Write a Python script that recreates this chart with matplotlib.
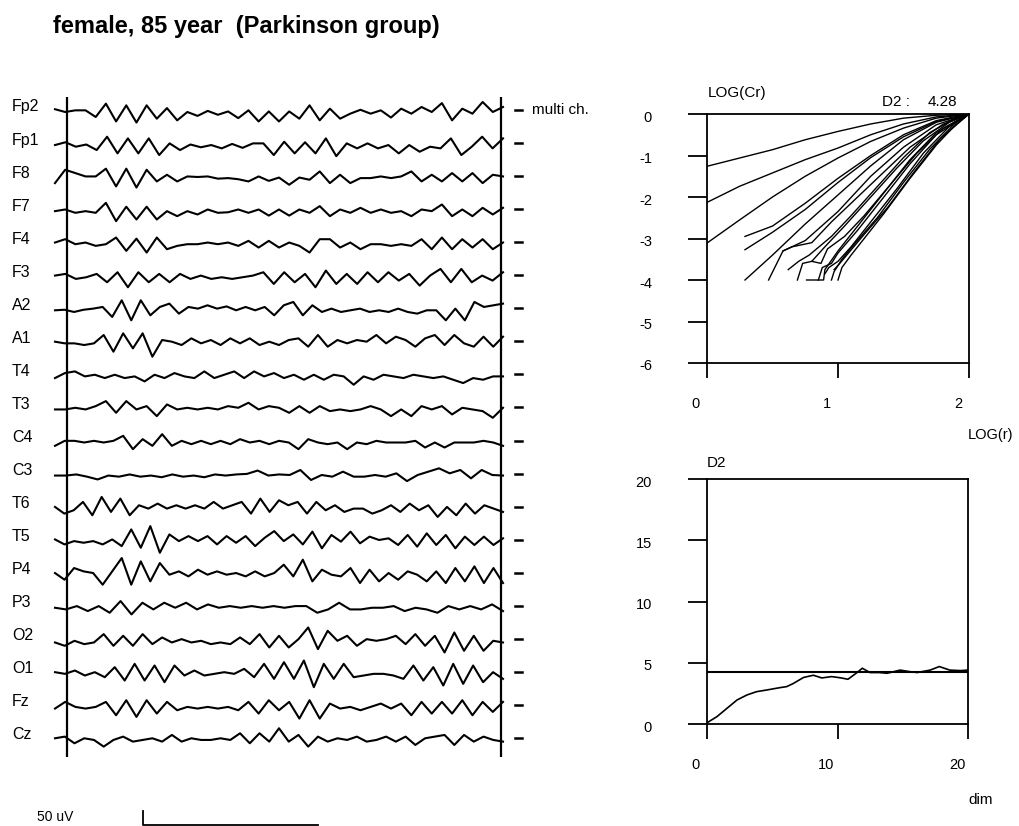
import numpy as np
import matplotlib
matplotlib.use("Agg")
import matplotlib.pyplot as plt
from matplotlib.transforms import ScaledTranslation

plt.rcParams['font.family'] = ['Liberation Sans', 'DejaVu Sans']

# ---------------- data ----------------
title = "female, 85 year  (Parkinson group)"
channel_names = ["Fp2", "Fp1", "F8", "F7", "F4", "F3", "A2", "A1", "T4", "T3",
                 "C4", "C3", "T6", "T5", "P4", "P3", "O2", "O1", "Fz", "Cz"]

# EEG amplitudes (uV), evenly spaced in time over the epoch
fp2 = [10, 0, 6, 6, -18, 30, -34, 24, -38, 24, -24, 14, -30, 0, -14, 4, -10, 2, -22, 6, -34, 2, -34, 2,
       -24, 24, -30, 12, -24, -6, 8, -6, 6, -20, 12, -6, 18, 0, 32, -30, 12, -6, 36, 0, 18]
fp1 = [0, 10, -6, 2, -18, 30, -30, 24, -30, 24, -36, 6, -18, 2, -8, 0, -12, 4, -10, 6, 6, -36, 12, -30, 10,
       -30, 24, -40, 6, -12, 6, -12, 0, -30, 0, -24, -6, -12, 24, -36, -6, 30, -12, 24]
f8 = [-18, 30, 18, 6, 6, 34, -30, 34, -34, 30, -12, 12, -12, 6, 4, 6, -2, 0, -4, -12, 6, -10, 2, -24, 2,
      -6, 24, -18, 12, -18, 0, 0, 6, 0, 6, 24, -12, 12, -12, 18, -12, 18, -18, 12, 6]
f7 = [0, 6, -6, 0, -6, 30, -36, 16, -30, 16, -30, 0, -18, 0, -12, 6, -6, -4, 6, -6, 6, -16, 6, -16, 6,
      -6, 18, -18, 6, -6, 12, -6, 6, -6, 0, -18, 6, 0, 24, -18, 6, -18, 12, -12, 12]
f4 = [6, 18, 0, 6, -6, 0, 24, -24, 20, -30, 24, -18, -6, 0, 0, 6, 0, 6, -6, 12, -12, 12, -12, 6,
      -6, -30, 18, 18, -12, 6, -18, 0, 0, -6, 0, -6, 18, -18, 24, -18, 18, -12, 18, -18, 6]
f3 = [6, 12, -6, 0, 12, -18, 18, -36, 18, -18, 12, -18, 12, -6, 6, -6, 0, -6, 0, 6, 18, -24, 18, -18, 12,
      -36, 24, -24, 12, -24, 18, -18, 18, -12, 12, -30, 6, 30, -18, 30, -18, 6, -12, 18]
a2 = [0, 2, -6, 2, 6, 12, -24, 36, -36, 36, -18, 12, 24, -12, 12, 6, 18, 6, 14, 0, 12, 0, 12, -18, 18, 30,
      -18, 18, -6, 6, -6, 0, 6, -6, 0, -6, 6, -6, -12, 0, 0, -36, 6, -36, 30, 12, 18, 24]
a1 = [6, 0, 0, -6, 0, 30, -30, 36, -18, 36, -48, 12, 6, -6, 18, 0, 12, -6, 18, 0, 18, -6, 6, -6, 12, 18,
      -12, 30, -12, 12, 0, 12, 6, 30, 0, 24, 12, -12, 18, 30, -6, 30, 0, -12, 24, -12, 24]
t4 = [-6, 12, 18, 0, 6, -6, 6, -6, 0, -18, 6, -6, 12, 0, -6, 18, -6, 6, 18, -6, 18, 0, 12, -6, 6, -12, 6,
      -12, 6, 0, -30, 0, -12, 6, 0, -6, 6, 0, -6, 0, -12, -24, -6, -12, 0, 0]
t3 = [0, 0, 6, 0, 12, 30, -12, 30, 0, 12, -24, 18, 0, 6, 0, 6, 0, 12, 6, 24, 0, 12, 6, -12, 12,
      -12, 12, -6, 0, -6, 0, 12, 0, -24, 0, -24, 12, 0, 12, -18, 6, 0, -6, -30, 6]
c4 = [-12, 6, 6, 0, 6, 0, 6, 24, -24, 12, -12, 30, -12, 6, -6, 6, -6, 6, -6, 12, 0, 6, -6, 6, 0,
      -24, 12, 0, -6, 0, -24, 0, -6, 6, 0, 0, 0, 6, -18, 0, -18, 0, 0, 0, 6, 0, -12]
c3 = [0, 0, 4, -4, -14, 0, -4, 4, -4, 0, -6, 4, -4, 0, -6, 4, 0, 4, 6, 18, 0, 4,
      2, 20, -16, 2, -4, 14, -4, -4, 2, -4, 8, -20, 2, 14, 26, 8, 20, -10, 20, 2, 0]
t6 = [6, -18, -6, 24, -24, 42, -12, 36, -24, 12, 0, 18, 0, 12, 0, 12, 0, 24, 0, 12, 24, -18, 36, -12, 30, 12,
      24, -18, 24, -6, 12, -12, 0, 0, -18, -6, 12, -12, 18, -6, 12, -30, 6, -24, 18, -18, 12, 0, -12]
t5 = [8, -10, 2, -4, 2, -10, 8, -16, 44, -22, 56, -40, 26, 2, 20, 2, 20, -10, 20, -4, 20, -16, 14, 38, 2, 26, -10,
      36, -24, 24, 0, 36, -6, 18, 6, 12, -12, 24, -18, 30, -12, 24, -24, 18, -12, 18, -12, 12]
p4 = [6, -18, 24, 12, 6, -36, 12, 60, -36, 48, -24, 42, 0, 12, -6, 18, 0, 12, 0, 6, -6, 12, -6, 6, 36, -6,
      54, -24, 18, 0, -6, 24, -30, 18, -24, 6, -18, 12, 0, -24, 12, -30, 24, -24, 30, -30, 24, -30]
p3 = [0, -6, 6, -12, 6, -18, 24, -24, 18, -6, 18, 0, 18, -6, 12, 0, 6, 0, 6, 0, 6, 0, 6,
      6, -18, -6, 18, -6, -6, 0, 0, 6, -12, 0, -6, -18, 6, -6, 6, -6, 12, -12]
o2 = [-6, -18, 0, -12, -6, 24, -18, 18, -18, 24, -12, 12, -6, 6, -6, 0, -12, -6, -12, 12, -12, 24, -24, 18, -24, 6,
      48, -30, 36, 0, 18, -18, 6, 0, 6, 18, -12, 24, -18, 18, -42, 30, -36, 18, -36, 0, -6]
o1 = [6, 0, 12, -6, 6, -12, 24, -24, 36, -24, 30, -30, 30, -6, 12, -6, 0, 6, 0, 18, -12, 36, -18, 42, -18,
      48, -48, 36, -18, 36, -12, -6, 0, 0, -6, -18, 30, -24, 24, -42, 36, -36, 30, -30, 6, -18]
fz = [-6, 18, 0, -6, 0, 18, -30, 24, -36, 24, -24, 18, -12, 0, -6, 0, -6, 0, -12, 18, -24, 24, -12, 18,
      -42, 24, -42, 12, -6, 0, -12, 0, 12, -6, 12, -30, 18, -24, 18, -24, 24, -30, 18, -18, 18]
cz = [6, 12, -12, 6, 0, -24, 0, 12, -6, 0, 6, -6, 18, -6, 6, 0, 0, 6, 0, 24, -12, 24, -6, 42, -6, 18,
      -24, 12, -6, 6, 0, 12, -6, 0, 12, -6, 12, -18, 6, 12, 18, -18, 18, -6, 12, 0, -6]
eeg_traces = [fp2, fp1, f8, f7, f4, f3, a2, a1, t4, t3, c4, c3, t6, t5, p4, p3, o2, o1, fz, cz]

# correlation integrals: log(r) and log(C(r)) for successive embedding dimensions
corr_logr = [
    [0, 0.25, 0.5, 0.75, 1.0, 1.25, 1.5, 1.75, 2.0],
    [0, 0.25, 0.5, 0.75, 1.0, 1.25, 1.5, 1.75, 2.0],
    [0, 0.25, 0.5, 0.75, 1.0, 1.25, 1.5, 1.75, 2.0],
    [0.29, 0.5, 0.75, 1.0, 1.25, 1.5, 1.75, 2.0],
    [0.29, 0.5, 0.75, 1.0, 1.25, 1.5, 1.75, 2.0],
    [0.29, 0.5, 0.75, 1.0, 1.25, 1.5, 1.75, 2.0],
    [0.47, 0.58, 0.75, 1.0, 1.25, 1.5, 1.75, 2.0],
    [0.58, 0.65, 0.8, 0.95, 1.15, 1.35, 1.55, 1.8, 2.0],
    [0.69, 0.73, 0.8, 0.9, 1.05, 1.25, 1.45, 1.65, 1.85, 2.0],
    [0.62, 0.7, 0.78, 0.95, 1.1, 1.3, 1.5, 1.7, 1.9, 2.0],
    [0.76, 0.89, 0.9, 1.0, 1.15, 1.35, 1.55, 1.75, 2.0],
    [0.8, 0.87, 0.92, 1.05, 1.2, 1.4, 1.6, 1.8, 2.0],
    [0.85, 0.88, 0.95, 1.0, 1.15, 1.35, 1.55, 1.75, 2.0],
    [0.9, 0.93, 1.0, 1.1, 1.25, 1.45, 1.65, 1.85, 2.0],
    [0.95, 0.97, 1.03, 1.12, 1.3, 1.5, 1.7, 1.9, 2.0],
    [0.97, 1.0, 1.08, 1.2, 1.38, 1.58, 1.78, 2.0],
    [1.0, 1.03, 1.1, 1.2, 1.35, 1.55, 1.75, 1.9, 2.0],
]
corr_logc = [
    [-1.26, -1.06, -0.86, -0.62, -0.42, -0.24, -0.10, -0.03, 0],
    [-2.13, -1.74, -1.42, -1.10, -0.82, -0.50, -0.24, -0.07, 0],
    [-3.11, -2.55, -2.00, -1.50, -1.06, -0.66, -0.34, -0.10, 0],
    [-2.95, -2.70, -2.15, -1.55, -1.00, -0.50, -0.16, 0],
    [-3.27, -2.85, -2.30, -1.65, -1.05, -0.55, -0.18, 0],
    [-4.00, -3.40, -2.65, -1.95, -1.25, -0.62, -0.20, 0],
    [-4.00, -3.30, -3.05, -2.35, -1.50, -0.80, -0.26, 0],
    [-3.30, -3.20, -3.10, -2.60, -2.00, -1.40, -0.80, -0.25, 0],
    [-4.00, -3.60, -3.55, -3.20, -2.70, -2.00, -1.30, -0.65, -0.20, 0],
    [-3.75, -3.55, -3.40, -2.95, -2.45, -1.75, -1.05, -0.45, -0.10, 0],
    [-4.00, -4.00, -3.75, -3.30, -2.70, -1.90, -1.10, -0.45, 0],
    [-3.55, -3.60, -3.25, -2.95, -2.45, -1.70, -0.95, -0.35, 0],
    [-4.00, -3.70, -3.60, -3.35, -2.80, -2.00, -1.20, -0.50, 0],
    [-3.85, -3.70, -3.55, -3.20, -2.60, -1.80, -0.95, -0.30, 0],
    [-4.00, -3.80, -3.50, -3.15, -2.50, -1.65, -0.85, -0.20, 0],
    [-3.75, -3.65, -3.35, -2.90, -2.25, -1.40, -0.60, 0],
    [-4.00, -3.70, -3.40, -3.00, -2.40, -1.55, -0.75, -0.25, 0],
]
d2_value = 4.28

# D2 as a function of embedding dimension
dim_vals = [0, 0.76, 1.53, 2.3, 3.06, 3.8, 4.6, 5.6, 6.1, 6.6, 7.4, 8.15, 8.8, 9.55, 10.3, 10.8,
            11.5, 11.9, 12.5, 13.2, 13.8, 14.8, 15.5, 16.1, 17.1, 17.8, 18.6, 19.4, 20.0]
d2_vals = [0.1, 0.6, 1.28, 1.96, 2.37, 2.64, 2.78, 2.97, 3.05, 3.3, 3.8, 3.98, 3.76, 3.87, 3.76, 3.65,
           4.2, 4.55, 4.2, 4.2, 4.14, 4.4, 4.28, 4.2, 4.4, 4.69, 4.4, 4.36, 4.4]

# ---------------- layout ----------------
W, H = 1019, 826
fig = plt.figure(figsize=(W / 100, H / 100), dpi=100)
fig.patch.set_facecolor('white')


def rect(l, t, r, b):
    return [l / W, 1 - b / H, (r - l) / W, (b - t) / H]


fig.text(53 / W, 1 - 33 / H, title, fontsize=17, fontweight='bold', va='baseline', ha='left')

# ---- EEG panel ----
PX_PER_SEC = 175.0
UV_PER_PX = 3.6
trace_len_s = 448 / PX_PER_SEC
ax = fig.add_axes(rect(55, 97, 503, 757))
ax.set_xlim(0, trace_len_s)
ax.set_ylim(-660 * UV_PER_PX, 0)
ax.axis('off')

spacing = 33.05 * UV_PER_PX
first = 15 * UV_PER_PX
for i, (name, vals) in enumerate(zip(channel_names, eeg_traces)):
    off = -(first + i * spacing)
    t = np.linspace(0, trace_len_s, len(vals))
    ax.plot(t, off + np.asarray(vals, float), color='black', lw=1.5, clip_on=False,
            solid_joinstyle='round')
    ax.text(-43 / PX_PER_SEC, off + 5 * UV_PER_PX, name, fontsize=11.5, ha='left', va='center')
    ax.plot([460 / PX_PER_SEC, 467 / PX_PER_SEC], [off + 2 * UV_PER_PX] * 2, color='black',
            lw=1.8, clip_on=False)
ax.text(477 / PX_PER_SEC, -first + 2 * UV_PER_PX, "multi ch.", fontsize=11, ha='left', va='center')
for x_px in (12, 446):
    ax.axvline(x_px / PX_PER_SEC, color='black', lw=1.6)

# scale bar: 1 s horizontal, 50 uV vertical
sb_x0 = 88 / PX_PER_SEC
sb_y0 = -(825 - 97) * UV_PER_PX
ax.plot([sb_x0, sb_x0, sb_x0 + 1.0], [sb_y0 + 50, sb_y0, sb_y0], color='black', lw=1.3,
        clip_on=False)
ax.text(-18 / PX_PER_SEC, -(817 - 97) * UV_PER_PX, "50 uV", fontsize=10, ha='left', va='center')


# ---- right panels ----
def style_panel(a, xt, yt):
    a.set_xticks(xt)
    a.set_xticklabels([str(v) for v in xt])
    a.set_yticks(yt)
    a.set_yticklabels([str(v) for v in yt])
    a.tick_params(axis='y', direction='out', length=19 * 0.72, width=1.3, pad=36 * 0.72,
                  labelsize=10.5)
    a.tick_params(axis='x', direction='out', length=15 * 0.72, width=1.3, pad=19 * 0.72,
                  labelsize=10.5)
    for s in a.spines.values():
        s.set_linewidth(1.3)
    shift = ScaledTranslation(-11 / 100, 0, fig.dpi_scale_trans)
    for lab in a.get_xticklabels():
        lab.set_transform(lab.get_transform() + shift)
    shift_y = ScaledTranslation(0, -2 / 100, fig.dpi_scale_trans)
    for lab in a.get_yticklabels():
        lab.set_transform(lab.get_transform() + shift_y)


ax1 = fig.add_axes(rect(707, 114, 969, 363))
ax1.set_xlim(0, 2)
ax1.set_ylim(-6, 0)
for xr, yc in zip(corr_logr, corr_logc):
    ax1.plot(xr, yc, color='black', lw=1.0)
style_panel(ax1, [0, 1, 2], list(range(0, -7, -1)))
fig.text(708 / W, 1 - 93 / H, "LOG(Cr)", fontsize=11, ha='left', va='center')
fig.text(882 / W, 1 - 102 / H, "D2 :", fontsize=11, ha='left', va='center')
fig.text(928 / W, 1 - 102 / H, f"{d2_value:.2f}", fontsize=11, ha='left', va='center')
fig.text(968 / W, 1 - 435 / H, "LOG(r)", fontsize=10.5, ha='left', va='center')

ax2 = fig.add_axes(rect(707, 479, 968, 724))
ax2.set_xlim(0, 20)
ax2.set_ylim(0, 20)
ax2.axhline(d2_value, color='black', lw=1.5)
ax2.plot(dim_vals, d2_vals, color='black', lw=1.2)
style_panel(ax2, [0, 10, 20], [0, 5, 10, 15, 20])
fig.text(707 / W, 1 - 463 / H, "D2", fontsize=11, ha='left', va='center')
fig.text(968 / W, 1 - 800 / H, "dim", fontsize=11, ha='left', va='center')

fig.savefig("out.png", dpi=100, facecolor='white')
